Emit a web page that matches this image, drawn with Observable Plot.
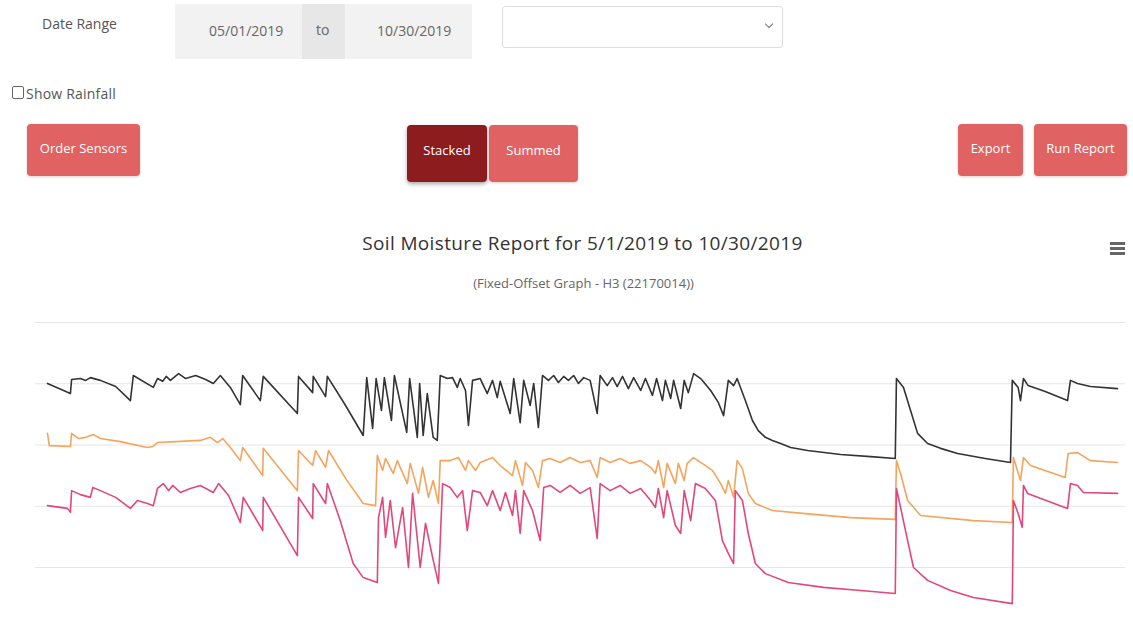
<!DOCTYPE html>
<html>
<head>
<meta charset="utf-8">
<script src="https://cdn.jsdelivr.net/npm/d3@7"></script>
<script src="https://cdn.jsdelivr.net/npm/@observablehq/plot@0.6"></script>
<style>
  html, body { margin: 0; padding: 0; background: #fff; }
  body { width: 1133px; height: 620px; position: relative; overflow: hidden; font-family: "Open Sans", sans-serif; color: #555; }
  .abs { position: absolute; }
  .lbl { font-size: 14px; color: #555; }
  .dg { background: #f2f2f2; }
  .btn { position: absolute; color: #fff; font-size: 13px; border-radius: 4px; display: flex; align-items: center; justify-content: center; background: #e06262; box-shadow: 0 1px 3px rgba(0,0,0,0.18); box-sizing: border-box; padding-bottom: 4px; }
  #chart { position: absolute; left: 0; top: 300px; }
</style>
</head>
<body>
  <div class="abs lbl" style="left:42px; top:14px;">Date Range</div>
  <div class="abs dg" style="left:175px; top:4px; width:297px; height:55px;"></div>
  <div class="abs" style="left:302px; top:4px; width:43px; height:55px; background:#e7e7e7;"></div>
  <div class="abs lbl" style="left:209px; top:21px; color:#666;">05/01/2019</div>
  <div class="abs lbl" style="left:316px; top:20px; color:#666;">to</div>
  <div class="abs lbl" style="left:377px; top:21px; color:#666;">10/30/2019</div>
  <div class="abs" style="left:502px; top:6px; width:279px; height:40px; border:1px solid #ddd; border-radius:3px;"></div>
  <div class="abs" style="left:766px; top:21px; width:5px; height:5px; border-right:1.5px solid #777; border-bottom:1.5px solid #777; transform:rotate(45deg);"></div>

  <div class="abs" style="left:12px; top:86px; width:10px; height:11px; border:1px solid #666; border-radius:2px;"></div>
  <div class="abs lbl" style="left:26px; top:84px; font-size:14px; letter-spacing:0.2px;">Show Rainfall</div>

  <div class="btn" style="left:27px; top:124px; width:113px; height:52px;">Order Sensors</div>
  <div class="btn" style="left:407px; top:125px; width:80px; height:57px; background:#8c1c1e; box-shadow:0 2px 4px rgba(0,0,0,0.35); padding-bottom:8px;">Stacked</div>
  <div class="btn" style="left:489px; top:125px; width:89px; height:57px; padding-bottom:8px;">Summed</div>
  <div class="btn" style="left:958px; top:124px; width:65px; height:52px;">Export</div>
  <div class="btn" style="left:1034px; top:124px; width:93px; height:52px;">Run Report</div>

  <div class="abs" style="left:0; width:1133px; top:230px; text-align:center; font-size:19px; letter-spacing:0.35px; color:#333; padding-left:32px; box-sizing:border-box;">Soil Moisture Report for 5/1/2019 to 10/30/2019</div>
  <div class="abs" style="left:0; width:1133px; top:274px; text-align:center; font-size:13px; color:#666; padding-left:34px; box-sizing:border-box;">(Fixed-Offset Graph - H3 (22170014))</div>
  <div class="abs" style="left:1110px; top:242px; width:15px; height:3px; background:#666;"></div>
  <div class="abs" style="left:1110px; top:247px; width:15px; height:3px; background:#666;"></div>
  <div class="abs" style="left:1110px; top:252px; width:15px; height:3px; background:#666;"></div>

  <div id="chart"></div>

<script>
// Days since 5/1/2019 and fixed-offset moisture values
const blackDay = [0,3.9,4.1,5.6,6.5,7.3,9.0,11.6,14.1,14.6,18.0,18.7,19.6,20.2,20.9,22.3,23.5,25.2,26.9,28.2,29.4,31.1,32.8,33.2,36.2,36.7,42.5,42.7,45.1,45.2,47.3,47.6,50.7,53.7,54.3,55.3,55.9,56.8,57.3,58.5,59.0,61.1,61.6,62.9,63.3,63.9,64.6,65.6,66.3,66.8,68.0,68.9,69.7,70.2,71.1,71.6,72.3,73.6,74.8,75.7,76.5,77.0,78.7,79.3,80.4,81.0,82.1,82.7,83.5,84.2,85.2,86.1,86.9,87.8,88.6,89.5,90.3,91.2,92.3,93.5,94.0,95.2,96.1,96.9,97.8,98.8,99.7,100.9,101.7,102.9,103.6,104.6,105.1,106.0,106.5,107.7,108.3,109.0,109.9,111.1,112.8,114.1,115.0,115.8,116.7,117.3,118.7,119.9,120.9,122.1,123.3,124.7,126.4,129.3,134.9,140.0,144.2,144.4,145.6,146.8,148.0,149.7,151.9,154.8,159.5,163.8,164.1,165.1,165.5,166.0,166.8,169.7,173.5,174.0,175.2,177.4,182.0];
const blackVal = [60.1,56.8,61.4,61.7,61.1,62.0,61.1,59.1,54.5,62.7,58.8,61.7,60.8,62.4,61.1,63.3,61.7,62.7,61.4,60.1,62.7,58.8,53.2,62.7,54.5,62.4,50.3,62.4,57.1,62.4,55.8,62.4,52.9,43.1,62.0,45.4,61.7,51.3,62.0,48.0,62.7,44.1,61.7,42.5,60.1,43.1,56.8,42.5,41.5,62.7,61.7,62.0,58.8,61.7,57.8,46.4,61.1,61.7,56.8,61.1,55.5,60.8,50.3,61.7,47.3,61.1,52.9,60.1,45.7,62.7,61.1,62.7,60.4,62.4,61.1,62.7,60.1,62.0,61.1,50.3,62.7,59.4,62.0,59.1,62.4,58.4,62.0,57.8,61.7,56.2,61.7,54.5,61.1,55.2,61.1,51.9,61.1,57.1,63.3,61.7,57.8,53.9,49.6,61.1,59.4,61.7,54.5,48.0,44.7,42.5,41.5,40.5,39.2,38.2,36.9,36.2,35.6,61.7,58.8,51.3,43.8,40.5,38.9,37.2,35.6,34.3,61.1,58.8,54.5,61.7,59.4,57.5,54.5,61.1,60.1,59.1,58.4];

const orangeDay = [0,0.3,3.9,4.1,5.3,6.5,7.8,9.0,12.4,17.0,17.9,18.7,21.8,26.0,27.7,28.9,29.8,31.1,32.8,33.2,36.6,36.7,42.5,42.7,45.1,45.6,47.3,47.8,50.7,53.7,55.8,56.1,57.0,57.5,58.8,59.5,61.2,61.7,63.1,63.8,64.8,65.6,66.5,66.8,68.5,69.9,71.1,71.6,72.8,73.6,75.7,77.0,79.1,79.6,80.8,81.3,82.5,83.5,84.2,85.5,87.2,88.9,90.6,92.3,93.5,94.0,95.7,97.4,99.1,100.9,102.6,103.4,103.9,104.8,105.4,106.8,107.3,108.3,108.8,109.9,111.1,113.1,114.5,115.3,115.8,116.7,117.3,118.2,119.2,120.4,123.3,128.9,136.6,144.2,144.4,145.1,146.3,148.5,157.5,164.1,164.3,165.5,166.0,167.2,173.1,173.6,175.2,177.4,182.0];
const orangeVal = [43.8,39.8,39.5,43.8,42.1,42.5,43.4,42.1,41.1,39.2,39.5,40.8,41.1,41.5,42.5,40.8,42.1,39.2,34.9,39.2,30.0,38.9,25.1,38.2,33.3,38.2,32.7,38.2,29.1,20.9,20.2,36.6,31.7,35.6,30.7,34.9,27.4,34.0,24.2,32.7,22.9,28.4,20.9,34.9,34.9,35.9,31.7,34.9,31.7,34.3,35.9,33.3,30.0,34.9,26.8,34.3,31.7,26.1,34.9,35.6,34.3,35.9,34.3,34.9,29.4,35.9,34.3,35.6,34.0,34.9,32.7,30.7,34.9,26.1,34.0,27.4,34.0,28.4,34.0,35.9,34.3,31.7,27.4,24.2,28.4,22.9,34.9,32.3,24.2,20.9,18.6,17.6,16.3,15.7,34.9,30.7,21.9,17.0,15.3,14.7,35.9,28.4,35.9,33.3,29.4,37.2,37.5,34.9,34.3];

const pinkDay = [0,3.4,3.9,4.1,5.6,7.3,7.7,9.0,11.6,14.1,15.3,17.0,18.0,18.7,19.7,20.6,21.3,22.6,24.3,26.0,28.2,29.1,30.8,32.8,33.3,36.6,36.7,42.5,42.7,45.1,45.2,47.3,47.6,49.8,52.0,53.7,56.1,56.3,57.0,57.5,58.3,59.2,60.4,61.4,62.1,63.4,64.3,65.5,66.5,67.2,68.5,69.7,70.6,71.4,72.3,73.6,74.8,75.7,77.0,77.9,79.1,79.6,80.4,81.0,82.5,83.8,84.4,85.5,87.2,88.9,90.6,92.3,93.5,94.0,95.7,97.4,99.1,100.9,102.6,103.4,103.9,104.8,105.4,106.8,107.7,108.3,109.4,110.2,111.9,113.6,114.8,115.8,116.7,117.0,118.2,119.2,120.4,122.1,126.0,132.0,138.3,144.2,144.4,145.1,146.3,147.3,149.7,153.6,157.5,164.1,164.3,165.1,165.8,166.0,166.7,173.5,174.0,175.2,176.2,182.0];
const pinkVal = [20.2,19.3,18.0,25.1,23.8,22.9,26.1,25.1,22.9,19.3,21.9,20.9,20.2,25.8,27.4,25.1,26.8,24.5,25.8,26.8,24.5,27.4,23.5,14.7,22.9,12.1,22.9,3.9,22.9,16.0,27.4,20.9,27.4,15.3,1.3,-3.3,-4.9,16.3,22.9,9.8,21.9,6.5,19.6,0,24.2,0,14.4,3.3,-5.2,27.4,26.1,22.9,25.1,12.1,25.1,24.5,20.2,25.1,18.6,24.5,17.0,25.1,11.1,25.1,18.6,8.8,26.1,26.8,24.5,26.8,24.2,26.1,9.5,27.4,25.1,26.8,24.2,25.8,21.9,19.6,25.8,16.3,25.1,13.7,11.1,25.1,15.3,27.4,25.8,21.9,8.8,4.6,1.3,25.1,21.9,11.1,1.3,-2.0,-4.9,-6.5,-7.5,-8.5,25.8,19.6,8.8,0,-4.2,-7.5,-9.8,-11.8,21.9,17.6,13.1,26.8,24.2,19.3,27.4,26.8,24.5,24.2];

const gridTicks = [0, 20, 40, 60, 80];
const startDate = "2019-05-01";
const endDate = "2019-10-30";

const t0 = new Date(startDate + "T00:00:00Z").getTime();
const rows = (days, vals) => days.map((d, i) => ({date: new Date(t0 + d * 864e5), value: vals[i]}));
const black = rows(blackDay, blackVal);
const orange = rows(orangeDay, orangeVal);
const pink = rows(pinkDay, pinkVal);

const chart = Plot.plot({
  width: 1133,
  height: 320,
  marginLeft: 47,
  marginRight: 16,
  marginTop: 22,
  marginBottom: 53,
  x: {type: "utc", domain: [new Date(startDate + "T00:00:00Z"), new Date(endDate + "T00:00:00Z")], axis: null},
  y: {domain: [0, 80], axis: null},
  marks: [
    Plot.ruleY(gridTicks, {stroke: "#e6e6e6", strokeWidth: 1, insetLeft: -12, insetRight: -8}),
    Plot.line(black, {x: "date", y: "value", stroke: "#333333", strokeWidth: 1.6}),
    Plot.line(orange, {x: "date", y: "value", stroke: "#f4a45c", strokeWidth: 1.6}),
    Plot.line(pink, {x: "date", y: "value", stroke: "#e2477c", strokeWidth: 1.6})
  ]
});
document.getElementById("chart").appendChild(chart);
</script>
</body>
</html>
